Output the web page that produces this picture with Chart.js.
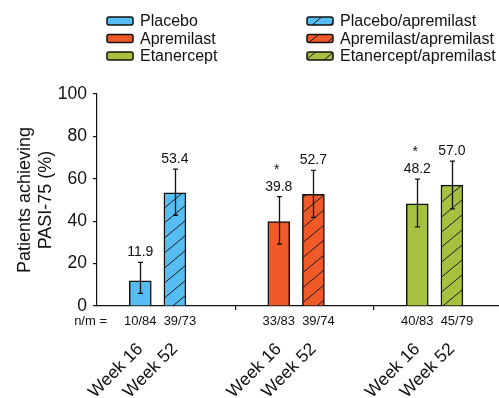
<!DOCTYPE html>
<html>
<head>
<meta charset="utf-8">
<script src="https://cdn.jsdelivr.net/npm/chart.js@4.4.1/dist/chart.umd.min.js"></script>
<style>
  html, body { margin: 0; padding: 0; background: #fff; overflow: hidden; }
  #wrap { width: 499px; height: 398px; overflow: hidden; }
  canvas { display: block; }
</style>
</head>
<body>
<div id="wrap"><canvas id="chart" width="514" height="398"></canvas></div>
<script>
// PASI-75 response by treatment arm, week 16 vs week 52.
const groups = ['Placebo', 'Apremilast', 'Etanercept'];
const weekLabels = ['Week 16', 'Week 52'];
const week16Pct = [11.9, 39.8, 48.2];
const week52Pct = [53.4, 52.7, 57.0];
const week16Lo = [6.0, 29.2, 37.3];
const week16Hi = [20.6, 51.6, 59.8];
const week52Lo = [42.8, 41.8, 45.8];
const week52Hi = [64.6, 64.0, 68.3];
const week16Nm = ['10/84', '33/83', '40/83'];
const week52Nm = ['39/73', '39/74', '45/79'];
const week16Star = [false, true, true];
const week52Star = [false, false, false];
const yTicks = [0, 20, 40, 60, 80, 100];
const legendSolid = ['Placebo', 'Apremilast', 'Etanercept'];
const legendHatched = ['Placebo/apremilast', 'Apremilast/apremilast', 'Etanercept/apremilast'];

const FONT = '"Liberation Sans", Arial, Helvetica, sans-serif';
const INK = '#111';
const COLORS = ['#55bdf2', '#f05a28', '#a6c13f'];

// each group is split into 8 narrow slots; the two bars sit in slots 2 and 4
const SLOTS = 8;
const WEEK_SLOT = [2, 4];

Chart.defaults.font.family = FONT;
Chart.defaults.color = INK;

function hatch(color) {
  const w = 18, h = 15;
  const c = document.createElement('canvas');
  c.width = w; c.height = h;
  const g = c.getContext('2d');
  g.fillStyle = color;
  g.fillRect(0, 0, w, h);
  g.strokeStyle = '#1a1a1a';
  g.lineWidth = 1;
  g.beginPath();
  g.moveTo(-w, 2 * h); g.lineTo(2 * w, -h);
  g.moveTo(-2 * w, 2 * h); g.lineTo(w, -h);
  g.moveTo(0, 2 * h); g.lineTo(3 * w, -h);
  g.stroke();
  return g.createPattern(c, 'repeat');
}
const HATCH = COLORS.map(hatch);

const slotLabels = [];
const data16 = [];
const data52 = [];
groups.forEach((name, g) => {
  for (let s = 0; s < SLOTS; s++) {
    slotLabels.push(s === WEEK_SLOT[0] ? weekLabels[0] : s === WEEK_SLOT[1] ? weekLabels[1] : '');
    data16.push(s === WEEK_SLOT[0] ? week16Pct[g] : null);
    data52.push(s === WEEK_SLOT[1] ? week52Pct[g] : null);
  }
});
const groupOf = (i) => Math.floor(i / SLOTS);

const series = [
  { lo: week16Lo, hi: week16Hi, pct: week16Pct, nm: week16Nm, star: week16Star },
  { lo: week52Lo, hi: week52Hi, pct: week52Pct, nm: week52Nm, star: week52Star },
];

const overlay = {
  id: 'overlay',
  afterDatasetsDraw(chart) {
    const { ctx, scales: { x, y } } = chart;
    ctx.save();
    ctx.strokeStyle = INK;
    ctx.fillStyle = INK;
    ctx.lineWidth = 1.3;
    series.forEach((s, si) => {
      const meta = chart.getDatasetMeta(si);
      groups.forEach((name, g) => {
        const el = meta.data[g * SLOTS + WEEK_SLOT[si]];
        if (!el) return;
        const cx = Math.round(el.x) + 0.5;
        const yLo = y.getPixelForValue(s.lo[g]);
        const yHi = y.getPixelForValue(s.hi[g]);
        ctx.beginPath();
        ctx.moveTo(cx, yLo); ctx.lineTo(cx, yHi);
        ctx.moveTo(cx - 2.5, yLo); ctx.lineTo(cx + 2.5, yLo);
        ctx.moveTo(cx - 2.5, yHi); ctx.lineTo(cx + 2.5, yHi);
        ctx.stroke();

        ctx.textAlign = 'center';
        ctx.textBaseline = 'alphabetic';
        ctx.font = '14px ' + FONT;
        ctx.fillText(s.pct[g].toFixed(1), el.x, yHi - 6);
        if (s.star[g]) {
          ctx.font = '14px ' + FONT;
          ctx.fillText('*', el.x - 2, yHi - 23);
        }
        ctx.font = '13px ' + FONT;
        ctx.textBaseline = 'middle';
        ctx.fillText(s.nm[g], el.x + si * 5, x.top + 15);
      });
    });
    ctx.font = '13px ' + FONT;
    ctx.textAlign = 'right';
    ctx.textBaseline = 'middle';
    ctx.fillText('n/m =', x.left + 10, x.top + 15);
    ctx.restore();
  },
  afterDraw(chart) {
    const { ctx } = chart;
    ctx.save();
    const cols = [{ x: 107, names: legendSolid, fills: COLORS }, { x: 307, names: legendHatched, fills: HATCH }];
    const rows = [21, 38.5, 56];
    cols.forEach((col) => {
      col.names.forEach((name, i) => {
        const top = rows[i] - 4;
        ctx.beginPath();
        ctx.roundRect(col.x, top, 26, 8, 2);
        ctx.fillStyle = col.fills[i];
        ctx.fill();
        ctx.lineWidth = 1.5;
        ctx.strokeStyle = INK;
        ctx.stroke();
        ctx.fillStyle = INK;
        ctx.font = '16px ' + FONT;
        ctx.textAlign = 'left';
        ctx.textBaseline = 'middle';
        ctx.fillText(name, col.x + 33, rows[i] + 1);
      });
    });
    ctx.restore();
  },
};

new Chart(document.getElementById('chart'), {
  type: 'bar',
  data: {
    labels: slotLabels,
    datasets: [
      { label: weekLabels[0], data: data16, backgroundColor: (c) => COLORS[groupOf(c.dataIndex)] },
      { label: weekLabels[1], data: data52, backgroundColor: (c) => HATCH[groupOf(c.dataIndex)] },
    ],
  },
  options: {
    responsive: false,
    animation: false,
    layout: { padding: { top: 94, right: 1.5, left: 0, bottom: 0 } },
    datasets: {
      bar: { grouped: false, barThickness: 22, borderColor: INK, borderWidth: 1.5, borderSkipped: 'start' },
    },
    plugins: { legend: { display: false }, tooltip: { enabled: false } },
    scales: {
      x: {
        offset: true,
        border: { color: INK, width: 1.2 },
        grid: {
          offset: true,
          drawOnChartArea: false,
          tickLength: 4,
          lineWidth: 1.2,
          color: (c) => (c.index > 0 && c.index % SLOTS === 0 ? INK : 'rgba(0,0,0,0)'),
        },
        ticks: { autoSkip: false, minRotation: 45, maxRotation: 45, padding: 29, color: INK, font: { size: 17.5 } },
        afterFit: (s) => { s.height = 92; s.paddingLeft = 0; s.paddingRight = 0; },
      },
      y: {
        min: 0,
        max: 100,
        afterBuildTicks: (s) => { s.ticks = yTicks.map((v) => ({ value: v })); },
        border: { color: INK, width: 1.2 },
        grid: { drawOnChartArea: false, tickLength: 4, color: INK, lineWidth: 1.2 },
        ticks: { padding: 6, color: INK, font: { size: 17.5 } },
        title: {
          display: true,
          text: ['Patients achieving', 'PASI-75 (%)'],
          color: INK,
          font: { size: 18, lineHeight: 1.14 },
          padding: { top: 15, bottom: 0 },
        },
        afterFit: (s) => { s.width = 97; s.paddingTop = 0; s.paddingBottom = 0; },
      },
    },
  },
  plugins: [overlay],
});
</script>
</body>
</html>
